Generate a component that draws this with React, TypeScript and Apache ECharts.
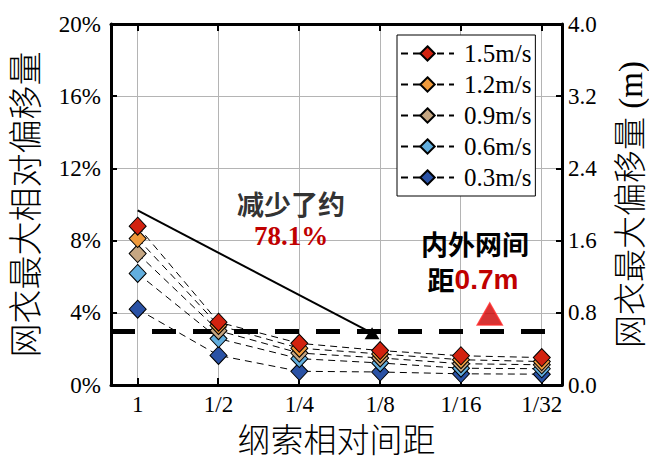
import React, { useEffect, useRef } from "react";
import * as echarts from "echarts";

const categories = ["1", "1/2", "1/4", "1/8", "1/16", "1/32"];
const seriesNames = ["1.5m/s", "1.2m/s", "0.9m/s", "0.6m/s", "0.3m/s"];
const v15 = [8.8, 3.48, 2.31, 1.91, 1.62, 1.52];
const v12 = [8.11, 3.3, 2.04, 1.72, 1.4, 1.3];
const v09 = [7.28, 3.01, 1.77, 1.5, 1.18, 1.12];
const v06 = [6.18, 2.57, 1.46, 1.22, 0.93, 0.9];
const v03 = [4.2, 1.64, 0.76, 0.72, 0.62, 0.6];
const seriesColors = ["#d2220f", "#ef9a3c", "#c5a682", "#62aede", "#2a52a5"];
const thresholdPct = 3;
const trendStart = [0, 9.67];
const trendEnd = [2.9, 2.87];
const redMarker = [4.356, 3.93];
const leftTicks = { min: 0, max: 20, interval: 4 };
const rightTicks = { min: 0, max: 4, interval: 0.8 };
const xRange = { min: -0.33, max: 5.25 };

const SERIF = "'Liberation Serif', 'Times New Roman', serif";
const CJK = "'Liberation Serif', 'Noto Sans CJK SC', serif";
const CJKB = "'Noto Sans CJK SC', sans-serif";
const GRID_GRAY = "#b4b4b4";

export default function App() {
  const ref = useRef<HTMLDivElement>(null);
  useEffect(() => {
    if (!ref.current) return;
    const chart = echarts.init(ref.current, undefined, { renderer: "svg" });
    const allValues = [v15, v12, v09, v06, v03];
    const idx = categories.map((_, i) => i);

    const dataSeries = allValues
      .map((vals, k) => ({
        name: seriesNames[k],
        type: "line",
        xAxisIndex: 0,
        yAxisIndex: 0,
        data: vals.map((v, i) => [i, v]),
        symbol: "diamond",
        symbolSize: [17, 18],
        z: 10,
        lineStyle: { color: "#000", width: 1, type: [7, 5] },
        itemStyle: { color: seriesColors[k], borderColor: "#000", borderWidth: 1 },
        emphasis: { disabled: true },
      }))
      .reverse();

    // vertical grid lines and x ticks (top & bottom), positioned through the axis scale
    const xGridSeries = {
      name: "xgrid",
      type: "custom",
      z: 1,
      silent: true,
      clip: false,
      data: idx.map((i) => [i, leftTicks.min]),
      encode: { x: 0, y: 1 },
      renderItem: (_p: any, api: any) => {
        const xv = api.value(0);
        const p0 = api.coord([xv, leftTicks.min]);
        const p1 = api.coord([xv, leftTicks.max]);
        const gx = Math.round(p0[0] - 0.5);
        const tx = Math.round(p0[0]) - 1;
        return {
          type: "group",
          children: [
            { type: "rect", shape: { x: gx, y: p1[1], width: 1, height: p0[1] - p1[1] }, style: { fill: GRID_GRAY } },
            { type: "rect", shape: { x: tx, y: p0[1] - 7, width: 2, height: 7 }, style: { fill: "#000" } },
            { type: "rect", shape: { x: tx, y: p1[1], width: 2, height: 7 }, style: { fill: "#000" } },
          ],
        };
      },
    };

    const axisLineStyle = { show: true, onZero: false, lineStyle: { color: "#000", width: 3 } };

    const option: any = {
      animation: false,
      backgroundColor: "#fff",
      grid: { left: 111, right: 87, top: 24, bottom: 72, outerBoundsMode: "none" },
      legend: {
        orient: "vertical",
        left: 397,
        top: 35,
        data: seriesNames,
        itemWidth: 53,
        itemHeight: 18,
        itemGap: 6,
        padding: [6, 4, 6, 3],
        borderColor: "#000",
        borderWidth: 1,
        borderRadius: 0,
        backgroundColor: "#fff",
        textStyle: { fontFamily: SERIF, fontSize: 25, color: "#000", padding: [0, 0, 0, 5] },
      },
      xAxis: [
        {
          type: "value",
          min: xRange.min,
          max: xRange.max,
          position: "bottom",
          name: "纲索相对间距",
          nameLocation: "middle",
          nameGap: 39,
          nameTextStyle: { fontFamily: CJK, fontSize: 33, color: "#000", fontWeight: 300 },
          axisLine: axisLineStyle,
          axisTick: { show: false },
          axisLabel: {
            customValues: idx,
            formatter: (v: number) => categories[Math.round(v)] ?? "",
            fontFamily: SERIF,
            fontSize: 23,
            color: "#000",
            margin: 8,
          },
          splitLine: { show: false },
        },
        {
          type: "value",
          min: xRange.min,
          max: xRange.max,
          position: "top",
          axisLine: axisLineStyle,
          axisTick: { show: false },
          axisLabel: { show: false },
          splitLine: { show: false },
        },
      ],
      yAxis: [
        {
          type: "value",
          position: "left",
          min: leftTicks.min,
          max: leftTicks.max,
          interval: leftTicks.interval,
          name: "网衣最大相对偏移量",
          nameLocation: "middle",
          nameGap: 68,
          nameTextStyle: { fontFamily: CJK, fontSize: 34, color: "#000", fontWeight: 300 },
          axisLine: axisLineStyle,
          axisTick: { show: true, inside: true, length: 6, lineStyle: { color: "#000", width: 2 } },
          axisLabel: { formatter: "{value}%", fontFamily: SERIF, fontSize: 23, color: "#000", margin: 10 },
          splitLine: { show: true, lineStyle: { color: GRID_GRAY, width: 1 } },
        },
        {
          type: "value",
          position: "right",
          min: rightTicks.min,
          max: rightTicks.max,
          interval: rightTicks.interval,
          name: "网衣最大偏移量 (m)",
          nameLocation: "middle",
          nameGap: 52,
          nameTextStyle: { fontFamily: CJK, fontSize: 33, color: "#000", fontWeight: 300 },
          axisLine: axisLineStyle,
          axisTick: { show: true, inside: true, length: 6, lineStyle: { color: "#000", width: 2 } },
          axisLabel: { formatter: (v: number) => v.toFixed(1), fontFamily: SERIF, fontSize: 23, color: "#000", margin: 6 },
          splitLine: { show: false },
        },
      ],
      graphic: [
        {
          type: "text",
          x: 291,
          y: 203,
          z: 100,
          style: {
            text: "减少了约",
            fill: "#333",
            fontFamily: CJKB,
            fontWeight: "bold",
            fontSize: 27,
            align: "center",
            verticalAlign: "middle",
          },
        },
        {
          type: "text",
          x: 291,
          y: 236,
          z: 100,
          style: {
            text: "78.1%",
            fill: "#c00000",
            fontFamily: SERIF,
            fontWeight: "bold",
            fontSize: 27,
            align: "center",
            verticalAlign: "middle",
          },
        },
        {
          type: "text",
          x: 475,
          y: 243,
          z: 100,
          style: {
            text: "内外网间",
            fill: "#000",
            fontFamily: CJKB,
            fontWeight: "bold",
            fontSize: 27,
            lineHeight: 28,
            align: "center",
            verticalAlign: "middle",
          },
        },
        {
          type: "text",
          x: 473,
          y: 279,
          z: 100,
          style: {
            text: "{a|距}{b|0.7m}",
            align: "center",
            verticalAlign: "middle",
            rich: {
              a: { fill: "#000", color: "#000", fontFamily: CJKB, fontWeight: "bold", fontSize: 27, lineHeight: 28 },
              b: { fill: "#c00000", color: "#c00000", fontFamily: "'Liberation Sans', Arial, sans-serif", fontWeight: "bold", fontSize: 28, lineHeight: 28 },
            },
          },
        },
      ],
      series: [
        xGridSeries,
        {
          name: "threshold",
          type: "line",
          data: [],
          z: 5,
          silent: true,
          markLine: {
            silent: true,
            symbol: ["none", "none"],
            label: { show: false },
            lineStyle: { color: "#000", width: 5, type: [24, 17] },
            emphasis: { disabled: true },
            data: [{ yAxis: thresholdPct }],
          },
        },
        {
          name: "trend",
          type: "line",
          z: 6,
          data: [
            { value: trendStart, symbol: "none" },
            { value: trendEnd, symbol: "triangle", symbolSize: [15, 12] },
          ],
          lineStyle: { color: "#000", width: 2 },
          itemStyle: { color: "#000" },
          emphasis: { disabled: true },
        },
        {
          name: "marker",
          type: "scatter",
          z: 6,
          data: [redMarker],
          symbol: "triangle",
          symbolSize: [25, 22],
          itemStyle: { color: "#cc0000", borderColor: "#ff2a2a", borderWidth: 1.5 },
          emphasis: { disabled: true },
        },
        ...dataSeries,
      ],
    };
    chart.setOption(option);
    return () => chart.dispose();
  }, []);
  return (
    <div
      ref={ref}
      style={{ position: "fixed", left: 0, top: 0, width: 649, height: 457, background: "#fff" }}
    />
  );
}
